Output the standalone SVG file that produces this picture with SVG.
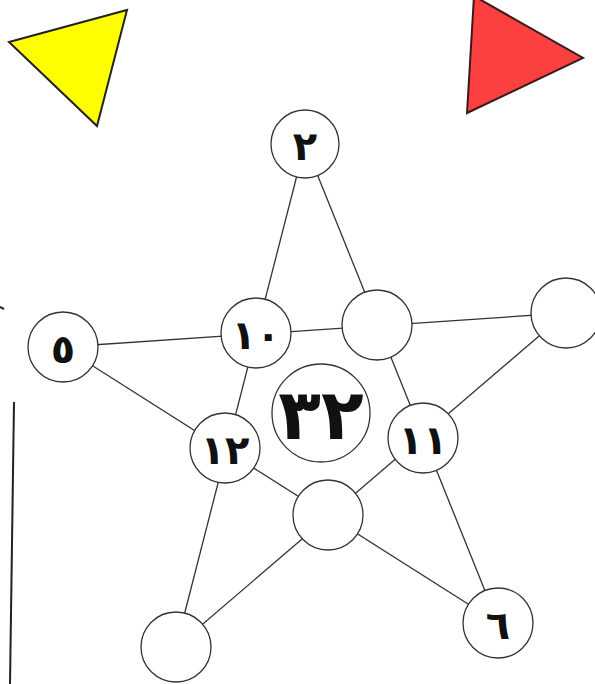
<svg xmlns="http://www.w3.org/2000/svg" width="595" height="684" viewBox="0 0 595 684">
<style>
.n{fill:#fff;stroke:#333;stroke-width:1.3}
.e{stroke:#333;stroke-width:1.3}
.t{font-family:"DejaVu Sans",sans-serif;font-weight:bold;fill:#111;text-anchor:middle;dominant-baseline:central}
</style>
<rect width="595" height="684" fill="#fff"/>
<polygon points="9,42 127,10 97,126" fill="#ffff00" stroke="#222" stroke-width="2"/>
<polygon points="474,-4 583,58 467,113" fill="#fb4040" stroke="#3a1a1a" stroke-width="2"/>
<line x1="14" y1="402" x2="10" y2="684" stroke="#222" stroke-width="2"/>
<line x1="0" y1="307" x2="4" y2="309" stroke="#222" stroke-width="2"/>
<g id="connectors" class="e">
<line x1="305" y1="144" x2="176" y2="647"/>
<line x1="305" y1="144" x2="498" y2="623"/>
<line x1="63" y1="347" x2="566" y2="313"/>
<line x1="63" y1="347" x2="498" y2="623"/>
<line x1="566" y1="313" x2="176" y2="647"/>
</g>
<g id="n2"><circle class="n" cx="305" cy="144" r="34"/><text class="t" x="305" y="146" font-size="40">٢</text></g>
<g id="n10"><circle class="n" cx="256" cy="333" r="35"/><text class="t" x="256" y="335" font-size="40">١٠</text></g>
<g id="nTR"><circle class="n" cx="377" cy="325" r="35"/></g>
<g id="nR"><circle class="n" cx="566" cy="313" r="35"/></g>
<g id="n5"><circle class="n" cx="63" cy="347" r="35"/><text class="t" x="63" y="349" font-size="40">٥</text></g>
<g id="n32"><circle class="n" cx="321" cy="413" r="49"/><text class="t" x="321" y="415" font-size="70">٣٢</text></g>
<g id="n12"><circle class="n" cx="225" cy="448" r="35"/><text class="t" x="225" y="450" font-size="40">١٢</text></g>
<g id="n11"><circle class="n" cx="423" cy="438" r="35"/><text class="t" x="423" y="440" font-size="40">١١</text></g>
<g id="nB"><circle class="n" cx="328" cy="515" r="35"/></g>
<g id="n6"><circle class="n" cx="498" cy="623" r="35"/><text class="t" x="498" y="625" font-size="40">٦</text></g>
<g id="nBL"><circle class="n" cx="176" cy="647" r="35"/></g>
</svg>
